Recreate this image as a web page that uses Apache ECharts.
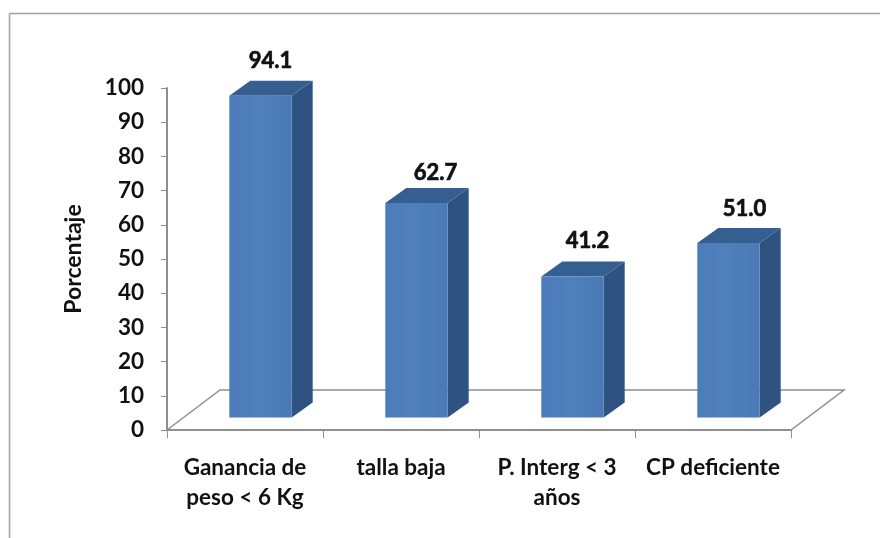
<!DOCTYPE html>
<html>
<head>
<meta charset="utf-8">
<style>html,body{margin:0;padding:0;background:#fff}#c{width:880px;height:538px}</style>
<script src="https://cdn.jsdelivr.net/npm/echarts@6/dist/echarts.min.js"></script>
</head>
<body>
<div id="c"></div>
<script>
var categories = ['Ganancia de\npeso < 6 Kg', 'talla baja', 'P. Interg < 3\naños', 'CP deficiente'];
var values = [94.1, 62.7, 41.2, 51.0];
var yTickMax = 100;
var yTickStep = 10;
var yName = 'Porcentaje';

var FONT = 'Lato';
var AXIS = '#8f8f8f';
var DEPTH = [21, -15];
var FLOOR = [53, -40];
var LIFT = 12.5, SHIFT = 15.5;
var labelNudge = [[10, -20], [19, -15], [15, -21], [16, -19]];

function pts(list) { return { points: list }; }

var chart = echarts.init(document.getElementById('c'), null, { renderer: 'canvas' });
chart.setOption({
  animation: false,
  backgroundColor: '#fff',
  grid: { left: 167, top: 88, width: 624, height: 342, containLabel: false },
  graphic: [
    { type: 'line', silent: true, shape: { x1: 9.5, y1: 13.5, x2: 880, y2: 13.5 }, style: { stroke: '#a0a0a0', lineWidth: 1.6 } },
    { type: 'line', silent: true, shape: { x1: 9.5, y1: 13.5, x2: 9.5, y2: 538 }, style: { stroke: '#a8a8a8', lineWidth: 1.6 } }
  ],
  xAxis: {
    type: 'category',
    z: 10,
    data: categories,
    boundaryGap: true,
    axisLine: { show: true, onZero: false, lineStyle: { color: AXIS, width: 2 } },
    axisTick: { show: true, length: 8, lineStyle: { color: AXIS, width: 1 } },
    axisLabel: { color: '#111', fontFamily: FONT, fontWeight: 700, fontSize: 22.5, lineHeight: 30, margin: 23, interval: 0 }
  },
  yAxis: {
    type: 'value',
    z: 10,
    min: 0,
    max: yTickMax,
    interval: yTickStep,
    name: yName,
    nameLocation: 'middle',
    nameRotate: 90,
    nameGap: 82,
    nameTextStyle: { color: '#111', fontFamily: FONT, fontWeight: 700, fontSize: 23 },
    splitLine: { show: false },
    axisLine: { show: true, onZero: false, lineStyle: { color: AXIS, width: 2 } },
    axisTick: { show: true, length: 6, lineStyle: { color: AXIS, width: 1 } },
    axisLabel: { color: '#111', fontFamily: FONT, fontWeight: 700, fontSize: 22.5, margin: 23 }
  },
  series: [
    {
      type: 'custom',
      silent: true,
      z: 1,
      data: [0],
      renderItem: function (params, api) {
        var c = params.coordSys;
        var x0 = c.x, x1 = c.x + c.width, y0 = c.y + c.height;
        return {
          type: 'polygon',
          shape: { points: [[x0, y0], [x0 + FLOOR[0], y0 + FLOOR[1]], [x1 + FLOOR[0], y0 + FLOOR[1]], [x1, y0]] },
          style: { fill: '#fff', stroke: AXIS, lineWidth: 1.5 }
        };
      }
    },
    {
      type: 'custom',
      silent: true,
      z: 3,
      data: values.map(function (v, i) { return [i, v]; }),
      encode: { x: 0, y: 1 },
      renderItem: function (params, api) {
        var i = api.value(0), v = api.value(1);
        var top = api.coord([i, v]), base = api.coord([i, 0]);
        var w = api.size([1, 0])[0] * 0.4;
        var xl = top[0] + SHIFT - w / 2, xr = xl + w;
        var yt = top[1] - LIFT, yb = base[1] - LIFT;
        var dx = DEPTH[0], dy = DEPTH[1];
        var n = labelNudge[params.dataIndex];
        return {
          type: 'group',
          children: [
            { type: 'polygon', shape: pts([[xr, yt], [xr + dx, yt + dy], [xr + dx, yb + dy], [xr, yb]]), style: { fill: '#2f5380' } },
            { type: 'polygon', shape: pts([[xl, yt], [xl + dx, yt + dy], [xr + dx, yt + dy], [xr, yt]]), style: { fill: '#365f91' } },
            {
              type: 'rect',
              shape: { x: xl, y: yt, width: w, height: yb - yt },
              style: {
                fill: new echarts.graphic.LinearGradient(0, 0, 1, 0, [
                  { offset: 0, color: '#4c7cb9' },
                  { offset: 0.5, color: '#4f80bc' },
                  { offset: 1, color: '#4a7ab6' }
                ])
              }
            },
            {
              type: 'text',
              style: {
                x: xl + w / 2 + n[0],
                y: yt + dy + n[1],
                text: v.toFixed(1),
                fill: '#111',
                stroke: '#111',
                lineWidth: 0.7,
                fontFamily: FONT,
                fontWeight: 700,
                fontSize: 22,
                align: 'center',
                verticalAlign: 'middle'
              }
            }
          ]
        };
      }
    }
  ]
});
</script>
</body>
</html>
